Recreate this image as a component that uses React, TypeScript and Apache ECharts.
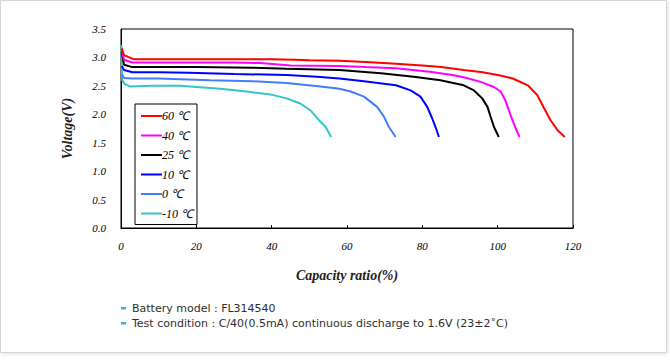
import React, { useEffect, useRef } from "react";
import * as echarts from "echarts";

const seriesNames = ["60 ℃", "40 ℃", "25 ℃", "10 ℃", "0 ℃", "-10 ℃"];
const seriesColors = ["#ff0000", "#ff00ff", "#000000", "#0000ff", "#3f7fff", "#33c6c6"];

const cap60 = [0.2, 0.8, 3.3, 10, 20, 30, 40, 46, 50, 58, 65, 73, 80, 85, 91, 96, 100, 104, 108, 110.5, 112.3, 114, 115.9, 117.8];
const volt60 = [3.16, 3.04, 2.97, 2.97, 2.97, 2.97, 2.97, 2.96, 2.95, 2.94, 2.92, 2.89, 2.86, 2.83, 2.78, 2.74, 2.69, 2.63, 2.51, 2.34, 2.11, 1.9, 1.72, 1.6];

const cap40 = [0.2, 0.8, 3, 10, 20, 30, 37, 45, 58, 65, 73, 82, 88, 91, 95.5, 99, 100.8, 102, 103, 103.9, 104.8, 105.8];
const volt40 = [3.13, 2.96, 2.91, 2.91, 2.91, 2.91, 2.9, 2.86, 2.85, 2.83, 2.81, 2.75, 2.69, 2.65, 2.57, 2.48, 2.4, 2.25, 2.07, 1.9, 1.75, 1.6];

const cap25 = [0.2, 0.8, 3, 10, 20, 35, 44, 58, 69, 77.7, 84.8, 91, 93.7, 95.9, 97.3, 98.1, 99, 100.3];
const volt25 = [3.1, 2.87, 2.83, 2.83, 2.83, 2.82, 2.8, 2.78, 2.72, 2.66, 2.6, 2.51, 2.42, 2.28, 2.13, 1.96, 1.78, 1.6];

const cap10 = [0.2, 0.8, 3, 10, 18, 30, 44, 52, 58, 64.5, 73, 76.9, 79.5, 81.3, 82.6, 83.8, 84.4];
const volt10 = [2.85, 2.78, 2.74, 2.74, 2.73, 2.71, 2.69, 2.66, 2.63, 2.58, 2.51, 2.42, 2.31, 2.13, 1.93, 1.72, 1.6];

const cap0 = [0.2, 0.8, 3, 10, 23.7, 35, 44, 53, 58, 61, 64.5, 68, 69.8, 71.1, 72.9];
const volt0 = [2.7, 2.64, 2.63, 2.63, 2.6, 2.58, 2.55, 2.49, 2.45, 2.4, 2.31, 2.13, 1.96, 1.78, 1.6];

const capM10 = [0.1, 0.3, 1, 2.4, 8, 15.7, 26.3, 33.4, 39.6, 44, 47.6, 50.3, 52.5, 54.3, 55.8];
const voltM10 = [3.22, 2.6, 2.53, 2.49, 2.5, 2.5, 2.45, 2.4, 2.35, 2.28, 2.19, 2.07, 1.9, 1.78, 1.6];

const capList = [cap60, cap40, cap25, cap10, cap0, capM10];
const voltList = [volt60, volt40, volt25, volt10, volt0, voltM10];

const xTicks = { min: 0, max: 120, interval: 20 };
const yTicks = { min: 0, max: 3.5, interval: 0.5 };

const footerLines = [
  "Battery model : FL314540",
  "Test condition : C/40(0.5mA) continuous discharge to 1.6V (23±2˚C)",
];

const serif = "'Liberation Serif', 'Times New Roman', serif";

export default function App() {
  const ref = useRef<HTMLDivElement>(null);
  useEffect(() => {
    if (!ref.current) return;
    const chart = echarts.init(ref.current, undefined, { renderer: "svg" });
    const series = seriesNames.map((name, i) => ({
      name,
      type: "line",
      data: capList[i].map((c, j) => [c, voltList[i][j]]),
      showSymbol: false,
      symbol: "none",
      lineStyle: { color: seriesColors[i], width: 2 },
      itemStyle: { color: seriesColors[i] },
      z: 10 - i,
    }));
    const graphics: any[] = [
      {
        type: "rect",
        shape: { x: 0.5, y: 0.5, width: 666, height: 352 },
        style: {
          fill: "#ffffff",
          stroke: "#d6d6d6",
          lineWidth: 1,
          shadowBlur: 4,
          shadowColor: "rgba(0,0,0,0.12)",
          shadowOffsetX: 1,
          shadowOffsetY: 1,
        },
        z: -10,
        silent: true,
      },
    ];
    footerLines.forEach((t, i) => {
      graphics.push({
        type: "rect",
        shape: { x: 121, y: 307 + i * 15, width: 5, height: 2.5 },
        style: { fill: "#3db3dc" },
      });
      graphics.push({
        type: "text",
        x: 132,
        y: 308 + i * 15,
        style: {
          text: t,
          fill: "#2e2e2e",
          font: "11px 'DejaVu Sans', sans-serif",
          lineHeight: 12,
          textVerticalAlign: "middle",
          verticalAlign: "middle",
        },
      });
    });
    chart.setOption({
      animation: false,
      backgroundColor: "#ffffff",
      graphic: graphics,
      grid: {
        left: 121,
        top: 29,
        right: 97,
        bottom: 132,
        show: true,
        borderColor: "#000",
        borderWidth: 1,
        backgroundColor: "transparent",
      },
      legend: {
        orient: "vertical",
        left: 135,
        top: 104,
        width: 62,
        data: seriesNames,
        icon: "rect",
        itemWidth: 21,
        itemHeight: 2,
        itemGap: 7.5,
        padding: [6, 4, 5, 6],
        borderColor: "#000",
        borderWidth: 1,
        backgroundColor: "#fff",
        textStyle: {
          fontFamily: serif,
          fontStyle: "italic",
          fontSize: 12,
          color: "#000",
          padding: [0, 0, 0, -5],
        },
      },
      xAxis: {
        type: "value",
        ...xTicks,
        name: "Capacity ratio(%)",
        nameLocation: "middle",
        nameGap: 40,
        nameTextStyle: {
          fontFamily: serif,
          fontStyle: "italic",
          fontWeight: "bold",
          fontSize: 14,
          color: "#222",
        },
        axisLine: { lineStyle: { color: "#000", width: 1 } },
        axisTick: { inside: true, length: 3, lineStyle: { color: "#000" } },
        axisLabel: {
          fontFamily: serif,
          fontStyle: "italic",
          fontSize: 11,
          color: "#000",
          margin: 12,
        },
        splitLine: { show: false },
      },
      yAxis: {
        type: "value",
        ...yTicks,
        name: "Voltage(V)",
        nameLocation: "middle",
        nameGap: 47,
        nameTextStyle: {
          fontFamily: serif,
          fontStyle: "italic",
          fontWeight: "bold",
          fontSize: 14,
          color: "#222",
        },
        axisLine: { lineStyle: { color: "#000", width: 1 } },
        axisTick: { show: false },
        axisLabel: {
          fontFamily: serif,
          fontStyle: "italic",
          fontSize: 11,
          color: "#000",
          margin: 15,
          formatter: (v: number) => v.toFixed(1),
        },
        splitLine: { show: false },
      },
      series,
    });
    return () => chart.dispose();
  }, []);
  return (
    <div
      ref={ref}
      style={{ position: "fixed", left: 0, top: 0, width: 670, height: 360, background: "#fff" }}
    />
  );
}
